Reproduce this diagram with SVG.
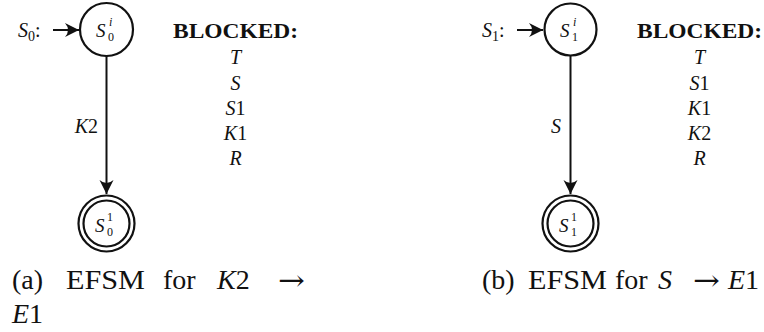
<svg xmlns="http://www.w3.org/2000/svg" width="764" height="332" viewBox="0 0 764 332" font-family="'Liberation Serif', 'DejaVu Serif', serif">
<defs>
<marker id="ah" viewBox="-15 -8 16 16" refX="0" refY="0" markerWidth="16" markerHeight="16" markerUnits="userSpaceOnUse" orient="auto">
<path d="M0,0 L-14,-7 Q-8,0 -14,7 Z" fill="#111"/>
</marker>
</defs>
<style>
text{font-family:'Liberation Serif','DejaVu Serif',serif;fill:#111}
.it{font-style:italic}
.st{fill:none;stroke:#111;stroke-width:2.2}
.edge{fill:none;stroke:#111;stroke-width:2}
.lbl{font-size:20px}
.nd{font-size:19px}
.sc{font-size:12px}
.bl{font-size:21px;font-weight:bold}
.cap{font-size:28px}
.arr{font-family:'DejaVu Serif',serif;font-size:28px}
</style>
<rect width="764" height="332" fill="#fff"/>

<g id="connectors">
<line class="edge" x1="53" y1="30" x2="79" y2="30" marker-end="url(#ah)"/>
<line class="edge" x1="106.5" y1="56" x2="106.5" y2="194" marker-end="url(#ah)"/>
<line class="edge" x1="517" y1="30" x2="543" y2="30" marker-end="url(#ah)"/>
<line class="edge" x1="570.5" y1="56" x2="570.5" y2="194" marker-end="url(#ah)"/>
</g>

<g id="labels-a">
<text class="lbl" x="18" y="37"><tspan class="it">S</tspan><tspan font-size="14" dy="4">0</tspan><tspan dy="-4">:</tspan></text>
<text class="lbl" x="98" y="133" text-anchor="end"><tspan class="it">K</tspan>2</text>
</g>

<g id="node-a0">
<circle class="st" cx="106.5" cy="29.5" r="26.5"/>
<text class="nd it" x="96" y="37">S</text>
<text class="sc it" x="109" y="26">i</text>
<text class="sc" x="108" y="41">0</text>
</g>

<g id="node-a1">
<circle class="st" cx="106.5" cy="223.5" r="28"/>
<circle class="st" cx="106.5" cy="223.5" r="23"/>
<text class="nd it" x="95" y="231.5">S</text>
<text class="sc" x="107" y="221">1</text>
<text class="sc" x="107" y="236">0</text>
</g>

<g id="blocked-a" text-anchor="middle">
<text class="bl" x="235.5" y="38" textLength="125" lengthAdjust="spacingAndGlyphs">BLOCKED:</text>
<text class="lbl it" x="235.5" y="64">T</text>
<text class="lbl it" x="235.5" y="89.5">S</text>
<text class="lbl" x="235.5" y="115"><tspan class="it">S</tspan>1</text>
<text class="lbl" x="235.5" y="140"><tspan class="it">K</tspan>1</text>
<text class="lbl it" x="235.5" y="165">R</text>
</g>

<g id="caption-a">
<text class="cap" x="12" y="289">(a)</text>
<text class="cap" x="66" y="289" textLength="79" lengthAdjust="spacingAndGlyphs">EFSM</text>
<text class="cap" x="163" y="289">for</text>
<text class="cap" x="217" y="289"><tspan class="it">K</tspan>2</text>
<text class="arr" transform="translate(278,290) scale(1.15,1)">→</text>
<text class="cap" x="12" y="323"><tspan class="it">E</tspan>1</text>
</g>

<g id="labels-b">
<text class="lbl" x="482" y="37"><tspan class="it">S</tspan><tspan font-size="14" dy="4">1</tspan><tspan dy="-4">:</tspan></text>
<text class="lbl it" x="561" y="133" text-anchor="end">S</text>
</g>

<g id="node-b0">
<circle class="st" cx="570.5" cy="29.5" r="26"/>
<text class="nd it" x="560" y="37">S</text>
<text class="sc it" x="573" y="26">i</text>
<text class="sc" x="572" y="41">1</text>
</g>

<g id="node-b1">
<circle class="st" cx="570.5" cy="223.5" r="28"/>
<circle class="st" cx="570.5" cy="223.5" r="23"/>
<text class="nd it" x="559" y="231.5">S</text>
<text class="sc" x="571" y="221">1</text>
<text class="sc" x="571" y="236">1</text>
</g>

<g id="blocked-b" text-anchor="middle">
<text class="bl" x="699.5" y="38" textLength="125" lengthAdjust="spacingAndGlyphs">BLOCKED:</text>
<text class="lbl it" x="699.5" y="64">T</text>
<text class="lbl" x="699.5" y="89.5"><tspan class="it">S</tspan>1</text>
<text class="lbl" x="699.5" y="115"><tspan class="it">K</tspan>1</text>
<text class="lbl" x="699.5" y="140"><tspan class="it">K</tspan>2</text>
<text class="lbl it" x="699.5" y="165">R</text>
</g>

<g id="caption-b">
<text class="cap" x="482" y="289">(b)</text>
<text class="cap" x="528" y="289" textLength="79" lengthAdjust="spacingAndGlyphs">EFSM</text>
<text class="cap" x="615" y="289">for</text>
<text class="cap it" x="658" y="289">S</text>
<text class="arr" transform="translate(693,290) scale(1.15,1)">→</text>
<text class="cap" x="728" y="289"><tspan class="it">E</tspan>1</text>
</g>
</svg>
